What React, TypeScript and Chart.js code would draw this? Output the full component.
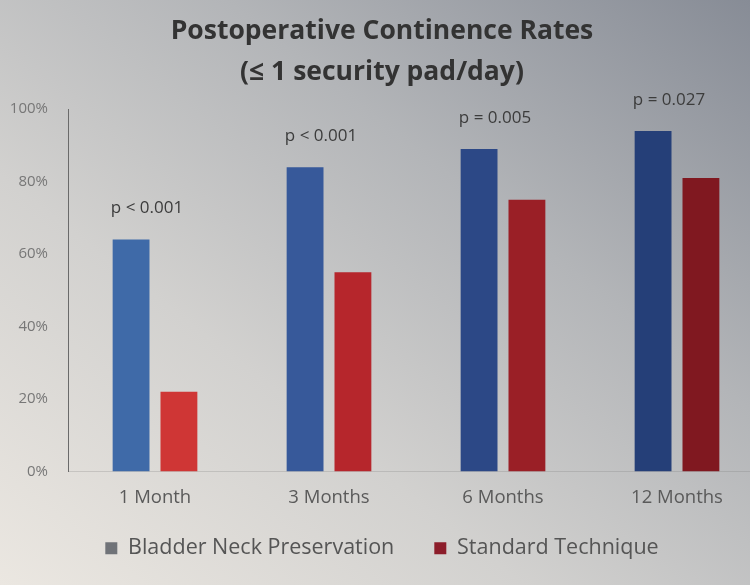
import { useEffect, useRef } from 'react';
import { Chart, registerables } from 'chart.js';

Chart.register(...registerables);

const categories = ['1 Month', '3 Months', '6 Months', '12 Months'];
const seriesNames = ['Bladder Neck Preservation', 'Standard Technique'];
const bnpValues = [64, 84, 89, 94];
const stdValues = [22, 55, 75, 81];
const pValues = ['p < 0.001', 'p < 0.001', 'p = 0.005', 'p = 0.027'];
const yTicks = [0, 20, 40, 60, 80, 100];

// the photo darkens to the right, so each bar gets its own shade
const blueShades = ['#3f6aa8', '#37599a', '#2c4886', '#253f78'];
const redShades = ['#cf3635', '#b6262c', '#9a1f26', '#801820'];

const pValuePlugin = {
    id: 'pValues',
    afterDatasetsDraw(chart: Chart) {
        const ctx = chart.ctx;
        const x = chart.scales.x;
        const y = chart.scales.y;
        ctx.save();
        ctx.font = '17px "Open Sans", sans-serif';
        ctx.fillStyle = '#3c3c3c';
        ctx.textAlign = 'center';
        ctx.textBaseline = 'middle';
        pValues.forEach((label, i) => {
            const top = Math.max(bnpValues[i], stdValues[i]);
            ctx.fillText(label, x.getPixelForValue(i) - 8, y.getPixelForValue(top) - 31);
        });
        ctx.restore();
    },
};

// pull the legend up closer to the category labels
const legendShift = {
    id: 'legendShift',
    afterLayout(chart: any) {
        if (chart.legend) {
            chart.legend.top -= 14;
            chart.legend.bottom -= 14;
        }
    },
};

export default function App() {
    const chartRef = useRef<HTMLCanvasElement | null>(null);
    const chartInstance = useRef<Chart | null>(null);

    useEffect(() => {
        const ctx = chartRef.current?.getContext('2d');
        if (!ctx) return;
        if (chartInstance.current) {
            chartInstance.current.destroy();
        }

        chartInstance.current = new Chart(ctx, {
            type: 'bar',
            data: {
                labels: categories,
                datasets: [
                    {
                        label: seriesNames[0],
                        data: bnpValues,
                        backgroundColor: blueShades,
                        borderWidth: 0,
                    },
                    {
                        label: seriesNames[1],
                        data: stdValues,
                        backgroundColor: redShades,
                        borderWidth: 0,
                    },
                ],
            },
            options: {
                animation: false,
                responsive: false,
                layout: { padding: { left: 0, right: 16, top: 0, bottom: 2 } },
                datasets: {
                    bar: { categoryPercentage: 0.55, barPercentage: 0.77 },
                },
                scales: {
                    x: {
                        grid: { display: false },
                        border: { display: true, color: 'rgba(120,120,120,0.25)' },
                        afterFit: (scale: any) => {
                            scale.height = 40;
                        },
                        ticks: {
                            color: '#5a5a5a',
                            padding: 7,
                            font: { family: '"Open Sans", sans-serif', size: 18.5 },
                        },
                    },
                    y: {
                        min: 0,
                        max: 100,
                        afterBuildTicks: (scale: any) => {
                            scale.ticks = yTicks.map((v) => ({ value: v }));
                        },
                        afterFit: (scale: any) => {
                            scale.width = 68;
                        },
                        grid: { display: false },
                        border: { display: true, color: '#6a6a6a', width: 1 },
                        ticks: {
                            color: '#777',
                            padding: 12,
                            font: { family: '"Open Sans", sans-serif', size: 15 },
                            callback: (v: any) => v + '%',
                        },
                    },
                },
                plugins: {
                    title: {
                        display: true,
                        text: ['Postoperative Continence Rates', '(≤ 1 security pad/day)'],
                        color: '#333',
                        font: { family: '"Open Sans", sans-serif', size: 26.5, weight: 'bold', lineHeight: 1.55 },
                        padding: { top: 11, bottom: 16 },
                    },
                    legend: {
                        position: 'bottom',
                        labels: {
                            color: '#555',
                            boxWidth: 12,
                            boxHeight: 12,
                            padding: 40,
                            font: { family: '"Open Sans", sans-serif', size: 21.5 },
                            generateLabels: (chart: Chart) => {
                                const items = Chart.defaults.plugins.legend.labels.generateLabels(chart);
                                items[0].fillStyle = '#707378';
                                items[0].strokeStyle = '#707378';
                                items[1].fillStyle = '#8c1d2a';
                                items[1].strokeStyle = '#8c1d2a';
                                return items;
                            },
                        },
                    },
                    tooltip: { enabled: false },
                },
            },
            plugins: [pValuePlugin, legendShift],
        });

        return () => {
            if (chartInstance.current) {
                chartInstance.current.destroy();
                chartInstance.current = null;
            }
        };
    }, []);

    return (
        <div
            style={{
                position: 'fixed',
                inset: 0,
                overflow: 'hidden',
                background: 'linear-gradient(to bottom left, #878c96 0%, #b3b5b8 35%, #d2d1cf 65%, #ebe7e1 100%)',
            }}
        >
            <canvas ref={chartRef} width={780} height={585}></canvas>
        </div>
    );
}
